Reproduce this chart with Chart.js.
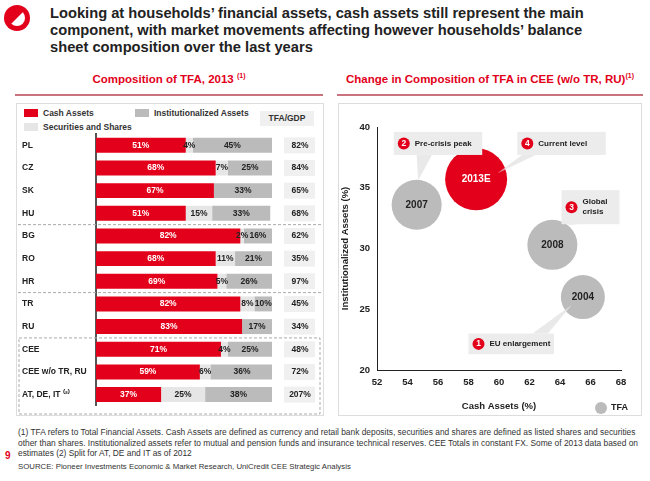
<!DOCTYPE html>
<html><head><meta charset="utf-8">
<script src="https://cdn.jsdelivr.net/npm/chart.js@4"></script>
<style>
body{margin:0;width:650px;height:481px;position:relative;font-family:"Liberation Sans",Arial,sans-serif;background:#fff;overflow:hidden}
.abs{position:absolute}
#title{left:50px;top:5px;width:560px;font-weight:bold;font-size:14.7px;line-height:17px;color:#222}
.hdr{top:72px;font-weight:bold;font-size:11.5px;color:#e2001a;text-align:center}
.ul{top:94px;height:2px;background:#c9737f}
.box{border:1px solid #ddd}
.leg{font-size:8.5px;font-weight:bold;color:#333}
.sw{display:inline-block;width:14px;height:8px;margin-right:5px;vertical-align:-1px}
#foot{left:18px;top:427px;width:625px;font-size:8.4px;line-height:10.5px;color:#333}
</style></head><body>
<div class="abs" style="left:4px;top:5px;width:26px;height:26px;border-radius:50%;background:#e2001a"></div>
<div class="abs" style="left:9px;top:10px;width:16px;height:16px;border-radius:50%;background:#fff;clip-path:polygon(0 100%,100% 0,100% 100%)"></div>
<div id="title" class="abs">Looking at households’ financial assets, cash assets still represent the main component, with market movements affecting however households’ balance sheet composition over the last years</div>
<div class="abs hdr" style="left:15px;width:308px">Composition of TFA, 2013 <sup style="font-size:7px">(1)</sup></div>
<div class="abs hdr" style="left:336px;width:308px">Change in Composition of TFA in CEE (w/o TR, RU)<sup style="font-size:7px">(1)</sup></div>
<div class="abs ul" style="left:15px;width:308px"></div>
<div class="abs ul" style="left:337px;width:306px"></div>
<div class="abs box" style="left:16px;top:103px;width:306px;height:311px"></div>
<div class="abs box" style="left:338px;top:103px;width:302px;height:311px"></div>
<div class="abs leg" style="left:24px;top:108px"><span class="sw" style="background:#e2001a"></span>Cash Assets</div>
<div class="abs leg" style="left:135px;top:108px"><span class="sw" style="background:#bbb"></span>Institutionalized Assets</div>
<div class="abs leg" style="left:24px;top:122px"><span class="sw" style="background:#e6e6e6"></span>Securities and Shares</div>
<div class="abs leg" style="left:260px;top:111px;width:54px;height:15px;background:#f0f0f0;line-height:15px;text-align:center">TFA/GDP</div>
<div class="abs" style="left:16px;top:103px;width:307px;height:312px"><canvas id="c1"></canvas></div>
<div class="abs" style="left:338px;top:103px;width:302px;height:312px"><canvas id="c2"></canvas></div>
<div class="abs" style="left:5px;top:450px;color:#e2001a;font-weight:bold;font-size:10px">9</div>
<div id="foot" class="abs">(1) TFA refers to Total Financial Assets. Cash Assets are defined as currency and retail bank deposits, securities and shares are defined as listed shares and securities other than shares. Institutionalized assets refer to mutual and pension funds and insurance technical reserves. CEE Totals in constant FX. Some of 2013 data based on estimates (2) Split for AT, DE and IT as of 2012<br><span style="display:block;margin-top:3px;font-size:7.8px">SOURCE: Pioneer Investments Economic &amp; Market Research, UniCredit CEE Strategic Analysis</span></div>
<script>
const countries=["PL","CZ","SK","HU","BG","RO","HR","TR","RU","CEE","CEE w/o TR, RU","AT, DE, IT ⁽²⁾"];
const cashAssets=[51,68,67,51,82,68,69,82,83,71,59,37];
const securities=[4,7,0,15,2,11,5,8,0,4,6,25];
const institutional=[45,25,33,33,16,21,26,10,17,25,36,38];
const tfaGdp=["82%","84%","65%","68%","62%","35%","97%","45%","34%","48%","72%","207%"];
const years=["2004","2007","2008","2013E"];
const bubbleCash=[65.5,54.6,63.5,58.5];
const bubbleInst=[26.0,33.6,30.3,35.7];
const bubbleSize=[22,25,25,31];
const callouts=[
 {n:"2",text:["Pre-crisis peak"],x1:53.1,x2:58.9,y1:39.6,y2:37.7,tip:[54.7,35.6],base:[54.6,55.6]},
 {n:"4",text:["Current level"],x1:61.2,x2:67.0,y1:39.6,y2:37.7,tip:[59.9,36.2],base:[61.5,62.4]},
 {n:"3",text:["Global","crisis"],x1:64.1,x2:67.9,y1:34.8,y2:32.0,tip:[64.5,31.9],base:[64.6,65.2]},
 {n:"1",text:["EU enlargement"],x1:58.0,x2:63.6,y1:23.0,y2:21.3,tip:[64.8,25.4],base:[62.2,63.2]}
];
const F="'Liberation Sans',Arial,sans-serif";
Chart.defaults.font.family=F;
const labelsPlugin={id:'lbl',afterDatasetsDraw(ch){
 const c=ch.ctx;c.save();c.font="bold 8.5px "+F;c.textAlign='center';c.textBaseline='middle';
 ch.data.datasets.forEach((ds,i)=>{ch.getDatasetMeta(i).data.forEach((b,j)=>{const v=ds.data[j];if(!v)return;
  c.fillStyle=i==0?'#fff':'#222';const w=b.x-b.base;c.fillText(v+'%',b.base+w/2,b.y);});});
 const ys=ch.scales.y;
 countries.forEach((k,j)=>{const y=ys.getPixelForValue(j);c.fillStyle='#f0f0f0';c.fillRect(ch.chartArea.right+12,y-8,31,16);
  c.fillStyle='#222';c.fillText(tfaGdp[j],ch.chartArea.right+28,y);});
 c.strokeStyle='#aaa';c.lineWidth=1;c.setLineDash([3,2]);
 [3.5,6.5].forEach(v=>{const y=ys.getPixelForValue(v);c.beginPath();c.moveTo(2,y);c.lineTo(ch.width-2,y);c.stroke();});
 const yt=ys.getPixelForValue(8.5);c.strokeRect(3,yt,ch.width-6,ch.height-yt-1);
 c.restore();}};
new Chart(document.getElementById('c1'),{type:'bar',
 data:{labels:countries,datasets:[
  {data:cashAssets,backgroundColor:'#e2001a'},
  {data:securities,backgroundColor:'#e6e6e6'},
  {data:institutional,backgroundColor:'#bbbbbb'}]},
 options:{indexAxis:'y',responsive:true,maintainAspectRatio:false,animation:false,
  layout:{padding:{top:31,bottom:1,right:51,left:6}},
  plugins:{legend:{display:false},tooltip:{enabled:false}},
  datasets:{bar:{barPercentage:0.66,categoryPercentage:1}},
  scales:{x:{stacked:true,display:false,min:0,max:100},
   y:{stacked:true,grid:{display:false},border:{color:'#555',width:2},
    afterFit(s){s.width=74;},
    ticks:{crossAlign:'far',color:'#222',font:{size:8.5,weight:'bold'},padding:4}}}},
 plugins:[labelsPlugin]});
const calloutPlugin={id:'co',afterDatasetsDraw(ch){
 const c=ch.ctx,xs=ch.scales.x,ys=ch.scales.y;c.save();
 c.textAlign='center';c.textBaseline='middle';c.font="bold 10px "+F;
 years.forEach((t,i)=>{c.fillStyle=i==3?'#fff':'#222';c.fillText(t,xs.getPixelForValue(bubbleCash[i]),ys.getPixelForValue(bubbleInst[i]));});
 callouts.forEach(o=>{
  const X1=xs.getPixelForValue(o.x1),X2=xs.getPixelForValue(o.x2),Y1=ys.getPixelForValue(o.y1),Y2=ys.getPixelForValue(o.y2);
  c.fillStyle='rgba(225,225,225,0.75)';
  const by=o.tip[1]>o.y1?Y1:Y2;
  c.beginPath();c.moveTo(xs.getPixelForValue(o.base[0]),by);c.lineTo(xs.getPixelForValue(o.tip[0]),ys.getPixelForValue(o.tip[1]));c.lineTo(xs.getPixelForValue(o.base[1]),by);c.fill();
  c.fillStyle='#ececec';c.fillRect(X1,Y1,X2-X1,Y2-Y1);
  const cy=(Y1+Y2)/2;c.fillStyle='#e2001a';c.beginPath();c.arc(X1+10,cy,6,0,7);c.fill();
  c.fillStyle='#fff';c.font="bold 8.5px "+F;c.textAlign='center';c.fillText(o.n,X1+10,cy);
  c.fillStyle='#222';c.font="bold 8px "+F;c.textAlign='left';
  o.text.forEach((t,k)=>c.fillText(t,X1+21,cy+(k-(o.text.length-1)/2)*10));
 });
 c.fillStyle='#bbb';c.beginPath();c.arc(263,305,6,0,7);c.fill();
 c.fillStyle='#222';c.font="bold 9px "+F;c.textAlign='left';c.fillText('TFA',273,305);
 c.restore();}};
new Chart(document.getElementById('c2'),{type:'bubble',
 data:{datasets:[{data:bubbleCash.map((x,i)=>({x:x,y:bubbleInst[i],r:bubbleSize[i]})),
  backgroundColor:['#bbbbbb','#bbbbbb','#bbbbbb','#e2001a'],borderWidth:0,clip:false}]},
 options:{responsive:true,maintainAspectRatio:false,animation:false,
  layout:{autoPadding:false,padding:{top:24,right:19,left:0,bottom:0}},
  plugins:{legend:{display:false},tooltip:{enabled:false}},
  scales:{x:{min:52,max:68,grid:{display:false,drawTicks:true,tickLength:4},border:{color:'#222',width:1},
    afterFit(s){s.height=45;},
    ticks:{stepSize:2,color:'#222',font:{size:9.5,weight:'bold'}},
    title:{display:true,text:'Cash Assets (%)',color:'#222',font:{size:9.5,weight:'bold'},padding:{top:0,bottom:3}}},
   y:{min:20,max:40,grid:{display:false,tickLength:4},border:{color:'#222',width:1},
    afterFit(s){s.width=39;},
    ticks:{stepSize:5,color:'#222',font:{size:9.5,weight:'bold'}},
    title:{display:true,text:'Institutionalized Assets (%)',color:'#222',font:{size:9.5,weight:'bold'},padding:{top:2,bottom:0}}}}},
 plugins:[calloutPlugin]});
</script></body></html>
